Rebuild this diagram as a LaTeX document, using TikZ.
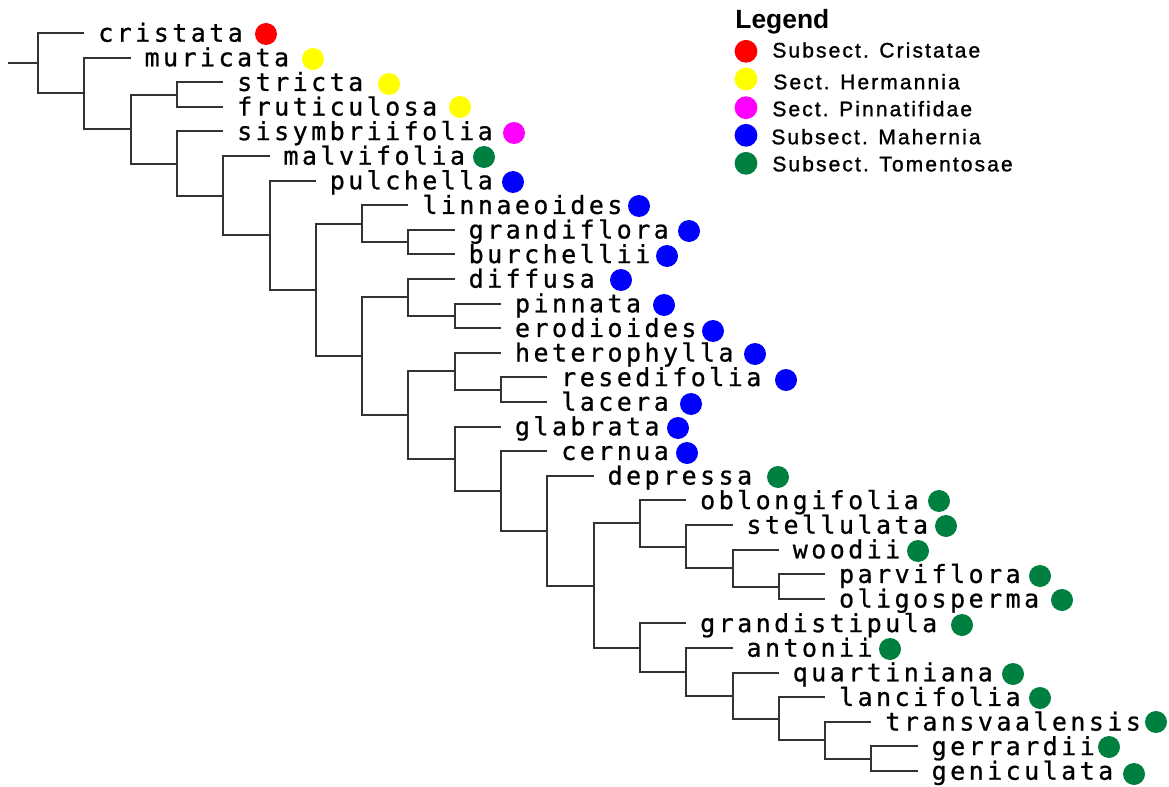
\documentclass[tikz,border=0pt]{standalone}
\usepackage{fontspec}
\newfontfamily\treefont[LetterSpace=13.8,FakeBold=0.8]{DejaVu Sans Mono}
\newfontfamily\legfont[LetterSpace=10,FakeBold=1.2]{Liberation Sans}
\newfontfamily\legtitlefont{Liberation Sans}

\definecolor{cristatae}{RGB}{255,0,0}
\definecolor{hermannia}{RGB}{255,255,0}
\definecolor{pinnatifidae}{RGB}{255,0,255}
\definecolor{mahernia}{RGB}{0,0,255}
\definecolor{tomentosae}{RGB}{0,128,64}

% one terminal taxon: end of its branch, its name and its section marker
\newcommand\taxonleaf[6]{%
  \coordinate (#1) at (#2,#3);
  \node[taxon] (#1-name) at ([xshift=6.8pt,yshift=-4.35pt]#1) {#1};
  \node[marker, fill=#6] (#1-dot) at (#4,#5) {};
}

\begin{document}
\begin{tikzpicture}[x=0.5pt,y=-0.5pt,
  branch/.style={draw=black!80, line width=1pt},
  taxon/.style={font=\treefont\fontsize{12.5pt}{14pt}\selectfont, inner sep=0pt, anchor=base west},
  marker/.style={circle, inner sep=0pt, minimum size=11pt, draw=none},
  legmarker/.style={circle, inner sep=0pt, minimum size=11.4pt, draw=none},
  legtext/.style={font=\legfont\fontsize{10.5pt}{12pt}\selectfont, inner sep=0pt, anchor=base west},
  legtitle/.style={font=\legtitlefont\bfseries\fontsize{13.2pt}{15pt}\selectfont, inner sep=0pt, anchor=base west}]

\useasboundingbox (0,0) rectangle (1169,787);

% internal nodes of the tree (x by depth, y midway between the children)
\coordinate (stub) at (8,63.2);
\coordinate (nRoot) at (38,63.2);
\coordinate (nA) at (84.3,93.3);
\coordinate (nB) at (130.6,129);
\coordinate (nC) at (176.9,94.5);
\coordinate (nD) at (176.9,163.5);
\coordinate (nE) at (223.2,195.6);
\coordinate (nF) at (269.5,235.3);
\coordinate (nG) at (315.8,289.9);
\coordinate (nH) at (362.1,223.65);
\coordinate (nJ) at (408.4,242.1);
\coordinate (nI) at (362.1,356.2);
\coordinate (nK) at (408.4,297.45);
\coordinate (nM) at (454.7,315.9);
\coordinate (nL) at (408.4,415);
\coordinate (nN) at (454.7,371.25);
\coordinate (nP) at (501,389.7);
\coordinate (nO) at (454.7,458.8);
\coordinate (nQ) at (501,490.9);
\coordinate (nR) at (547.3,530.7);
\coordinate (nS) at (593.6,585.5);
\coordinate (nT) at (639.9,523.45);
\coordinate (nV) at (686.2,546.5);
\coordinate (nW) at (732.5,568.05);
\coordinate (nX) at (778.8,586.5);
\coordinate (nU) at (639.9,647.6);
\coordinate (nY) at (686.2,671.8);
\coordinate (nZ) at (732.5,695.65);
\coordinate (nAA) at (778.8,718.7);
\coordinate (nAB) at (825.1,740.25);
\coordinate (nAC) at (871.4,758.7);

% terminal taxa
\taxonleaf{cristata}{84.3}{33}{266}{34}{cristatae}
\taxonleaf{muricata}{130.6}{57.6}{313}{59}{hermannia}
\taxonleaf{stricta}{223.2}{82.2}{389}{84}{hermannia}
\taxonleaf{fruticulosa}{223.2}{106.8}{460}{107}{hermannia}
\taxonleaf{sisymbriifolia}{223.2}{131.4}{514}{133}{pinnatifidae}
\taxonleaf{malvifolia}{269.5}{156}{484}{157}{tomentosae}
\taxonleaf{pulchella}{315.8}{180.6}{513}{182}{mahernia}
\taxonleaf{linnaeoides}{408.4}{205.2}{639}{206}{mahernia}
\taxonleaf{grandiflora}{454.7}{229.8}{689}{231}{mahernia}
\taxonleaf{burchellii}{454.7}{254.4}{667}{256}{mahernia}
\taxonleaf{diffusa}{454.7}{279}{621}{280}{mahernia}
\taxonleaf{pinnata}{501}{303.6}{664}{305}{mahernia}
\taxonleaf{erodioides}{501}{328.2}{713}{331}{mahernia}
\taxonleaf{heterophylla}{501}{352.8}{755}{354}{mahernia}
\taxonleaf{resedifolia}{547.3}{377.4}{786}{380}{mahernia}
\taxonleaf{lacera}{547.3}{402}{691}{404}{mahernia}
\taxonleaf{glabrata}{501}{426.6}{678}{428}{mahernia}
\taxonleaf{cernua}{547.3}{451.2}{687}{453}{mahernia}
\taxonleaf{depressa}{593.6}{475.8}{778}{477}{tomentosae}
\taxonleaf{oblongifolia}{686.2}{500.4}{939}{501}{tomentosae}
\taxonleaf{stellulata}{732.5}{525}{946}{526}{tomentosae}
\taxonleaf{woodii}{778.8}{549.6}{918}{551}{tomentosae}
\taxonleaf{parviflora}{825.1}{574.2}{1040}{576}{tomentosae}
\taxonleaf{oligosperma}{825.1}{598.8}{1062}{600}{tomentosae}
\taxonleaf{grandistipula}{686.2}{623.4}{962}{625}{tomentosae}
\taxonleaf{antonii}{732.5}{648}{890}{649}{tomentosae}
\taxonleaf{quartiniana}{778.8}{672.6}{1013}{674}{tomentosae}
\taxonleaf{lancifolia}{825.1}{697.2}{1040}{698}{tomentosae}
\taxonleaf{transvaalensis}{871.4}{721.8}{1156}{722}{tomentosae}
\taxonleaf{gerrardii}{917.7}{746.4}{1109}{747}{tomentosae}
\taxonleaf{geniculata}{917.7}{771}{1134}{774}{tomentosae}

% branches
\draw[branch] (stub) -- (nRoot);
\foreach \p/\c in {
  nRoot/cristata, nRoot/nA,
  nA/muricata, nA/nB,
  nB/nC, nB/nD,
  nC/stricta, nC/fruticulosa,
  nD/sisymbriifolia, nD/nE,
  nE/malvifolia, nE/nF,
  nF/pulchella, nF/nG,
  nG/nH, nG/nI,
  nH/linnaeoides, nH/nJ,
  nJ/grandiflora, nJ/burchellii,
  nI/nK, nI/nL,
  nK/diffusa, nK/nM,
  nM/pinnata, nM/erodioides,
  nL/nN, nL/nO,
  nN/heterophylla, nN/nP,
  nP/resedifolia, nP/lacera,
  nO/glabrata, nO/nQ,
  nQ/cernua, nQ/nR,
  nR/depressa, nR/nS,
  nS/nT, nS/nU,
  nT/oblongifolia, nT/nV,
  nV/stellulata, nV/nW,
  nW/woodii, nW/nX,
  nX/parviflora, nX/oligosperma,
  nU/grandistipula, nU/nY,
  nY/antonii, nY/nZ,
  nZ/quartiniana, nZ/nAA,
  nAA/lancifolia, nAA/nAB,
  nAB/transvaalensis, nAB/nAC,
  nAC/gerrardii, nAC/geniculata}
  \draw[branch] (\p) |- (\c);

% legend
\node[legtitle] (legend-title) at (735,28.3) {Legend};
\node[legmarker, fill=cristatae] (leg1-dot) at (746,51.3) {};
\node[legtext] (leg1) at (772,57.5) {Subsect. Cristatae};
\node[legmarker, fill=hermannia] (leg2-dot) at (746,79) {};
\node[legtext] (leg2) at (773,89.2) {Sect. Hermannia};
\node[legmarker, fill=pinnatifidae] (leg3-dot) at (746,107.7) {};
\node[legtext] (leg3) at (772,116.2) {Sect. Pinnatifidae};
\node[legmarker, fill=mahernia] (leg4-dot) at (746,135.3) {};
\node[legtext] (leg4) at (771,144.2) {Subsect. Mahernia};
\node[legmarker, fill=tomentosae] (leg5-dot) at (746,163.3) {};
\node[legtext] (leg5) at (772,171.3) {Subsect. Tomentosae};
\end{tikzpicture}
\end{document}
